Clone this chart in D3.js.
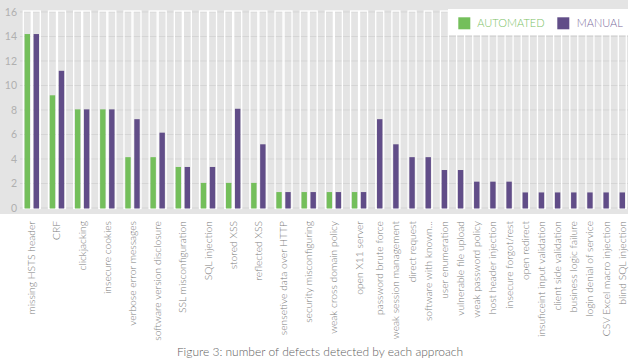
<!DOCTYPE html>
<html><head><meta charset="utf-8">
<script src="https://cdn.jsdelivr.net/npm/d3@7"></script>
<style>
html,body{margin:0;padding:0;background:#fff;}
svg{display:block;font-family:Lato,"Open Sans",sans-serif;}
</style></head>
<body><svg id="c" width="640" height="364"></svg>
<script>
const categories = ["missing HSTS header","CRF","clickjacking","insecure cookies","verbose error messages","software version disclosure","SSL misconfiguration","SQL injection","stored XSS","reflected XSS","sensetive data over HTTP","security misconfiguring","weak cross domain policy","open X11 server","password brute  force","weak session management","direct request","software with known...","user enumeration","vulnerable file upload","weak password policy","host header injection","insecure forgot/rest","open redirect","insuficeint input validation","client side validation","business logic failure","login denial of service","CSV Excel macro injection","blind SQL injection"];
const automated = [14.2,9.2,8.05,8.05,4.15,4.15,3.35,2.05,2.05,2.05,1.3,1.3,1.3,1.3,0,0,0,0,0,0,0,0,0,0,0,0,0,0,0,0];
const manual    = [14.2,11.2,8.05,8.05,7.25,6.15,3.35,3.35,8.1,5.2,1.3,1.3,1.3,1.3,7.25,5.2,4.15,4.15,3.1,3.1,2.15,2.15,2.15,1.27,1.27,1.27,1.27,1.27,1.27,1.27];
const seriesNames = ["AUTOMATED","MANUAL"];
const yTicks = [0,2,4,6,8,10,12,14,16];
const title = "Figure 3: number of defects detected by each approach";

const colors = {AUTOMATED:"#74bf5b", MANUAL:"#614d88"};
const textColors = {AUTOMATED:"#7cc266", MANUAL:"#7a6a9c"};

const svg = d3.select("#c");
const plot = {left:0, right:628, top:0, bottom:214};

svg.append("rect").attr("x",plot.left).attr("y",plot.top)
  .attr("width",plot.right-plot.left).attr("height",plot.bottom-plot.top).attr("fill","#e4e4e4");

const y = d3.scaleLinear().domain([0,16]).range([208,12]);

svg.append("g").selectAll("line").data(yTicks).join("line")
  .attr("x1",20).attr("x2",628)
  .attr("y1",d=>y(d)).attr("y2",d=>y(d))
  .attr("stroke","#d5d5d5").attr("stroke-width",1);

const yAxis = d3.axisLeft(y).tickValues(yTicks).tickSize(0).tickPadding(0);
const ya = svg.append("g").attr("transform","translate(17,0)").call(yAxis);
ya.select(".domain").remove();
ya.selectAll("text").attr("fill","#b0b0b0").attr("font-size","10.5px").attr("font-family","Lato, sans-serif");

const barW = 8, innerGap = 1, outerGap = 8.17;
const bars = [];
const catCenters = [];
let pos = 0;
categories.forEach((c,i)=>{
  const vals = [[seriesNames[0],automated[i]],[seriesNames[1],manual[i]]].filter(d=>d[1]>0);
  const start = pos;
  vals.forEach((v,j)=>{
    bars.push({cat:c, series:v[0], value:v[1], u:pos});
    pos += barW + (j<vals.length-1 ? innerGap : 0);
  });
  catCenters.push({cat:c, u:(start+pos)/2});
  pos += outerGap;
});
const total = pos - outerGap;
const x = d3.scaleLinear().domain([0,total]).range([23.3, 626.3]);
const k = (626.3-23.3)/total;

const g = svg.append("g");
g.selectAll("rect.bg").data(bars).join("rect").attr("class","bg")
  .attr("x",d=>x(d.u)).attr("width",barW*k)
  .attr("y",y(16)-1).attr("height",y(0)-y(16)+1.5)
  .attr("fill","none").attr("stroke","#ffffff").attr("stroke-width",1.3);
g.selectAll("rect.bar").data(bars).join("rect").attr("class","bar")
  .attr("x",d=>x(d.u)+1.3).attr("width",barW*k-2.6)
  .attr("y",d=>y(d.value)).attr("height",d=>y(0)-y(d.value)+0.5)
  .attr("fill",d=>colors[d.series]);

svg.append("g").selectAll("text").data(catCenters).join("text")
  .attr("transform",d=>`translate(${x(d.u)+3.5},221) rotate(-90)`)
  .attr("text-anchor","end")
  .attr("font-size","10.3px").attr("font-weight",300).attr("fill","#7a7a7a")
  .text(d=>d.cat);

const lg = svg.append("g");
lg.append("rect").attr("x",448).attr("y",9).attr("width",192).attr("height",26).attr("fill","#ffffff");
const legPos = [{s:seriesNames[0],bx:458.3,tx:477.3},{s:seriesNames[1],bx:557.3,tx:576.7}];
legPos.forEach(p=>{
  lg.append("rect").attr("x",p.bx).attr("y",17.3).attr("width",12).attr("height",12).attr("fill",colors[p.s]);
  lg.append("text").attr("x",p.tx).attr("y",27.3).attr("font-size","11px").attr("font-weight",300).attr("fill",textColors[p.s]).text(p.s);
});

svg.append("text").attr("x",320).attr("y",356).attr("text-anchor","middle")
  .attr("font-size","12px").attr("font-weight",300).attr("fill","#5e5e5e").text(title);
</script></body></html>
